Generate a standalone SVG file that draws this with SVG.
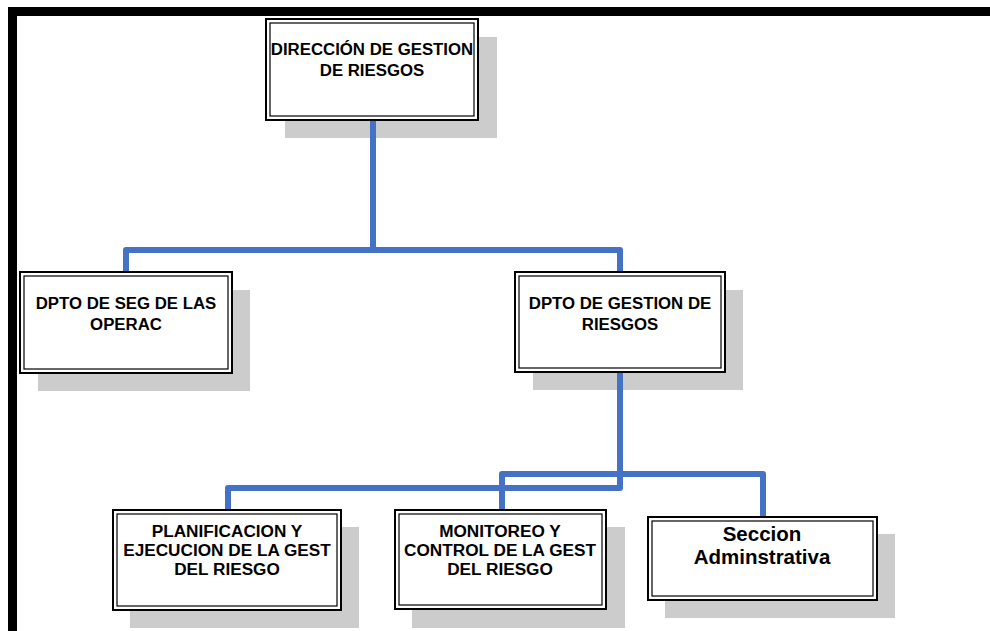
<svg xmlns="http://www.w3.org/2000/svg" width="990" height="631" viewBox="0 0 990 631">
  <style>
    .shadow { fill: #cccccc; }
    .outer { fill: #ffffff; stroke: #000000; stroke-width: 2; }
    .inner { fill: none; stroke: #000000; stroke-width: 1.2; }
    .label { font-family: "Liberation Sans", Arial, sans-serif; font-weight: bold; font-size: 16.8px; fill: #000000; text-anchor: middle; }
    .low { font-size: 17.2px; }
    .big { font-size: 20.5px; }
    .link { fill: none; stroke: #4472c4; stroke-width: 6; stroke-linejoin: round; stroke-linecap: round; }
  </style>

  <rect width="990" height="631" fill="#ffffff"/>

  <!-- page frame (top and left edges) -->
  <g id="frame">
    <rect x="8" y="7" width="982" height="9" fill="#000000"/>
    <rect x="8" y="7" width="9" height="624" fill="#000000"/>
  </g>

  <!-- shadows sit beneath everything -->
  <g id="shadows">
    <rect class="shadow" x="285" y="37" width="212" height="101"/>
    <rect class="shadow" x="38" y="290" width="212" height="101"/>
    <rect class="shadow" x="533" y="290" width="210" height="100"/>
    <rect class="shadow" x="130" y="527" width="229" height="101"/>
    <rect class="shadow" x="412" y="527" width="213" height="101"/>
    <rect class="shadow" x="665" y="534" width="230" height="84"/>
  </g>

  <!-- connectors -->
  <g id="connectors">
    <path class="link" d="M373,120 V250"/>
    <path class="link" d="M126,272 V250 H620 V272"/>
    <path class="link" d="M620,372 V488 H228 V510"/>
    <path class="link" d="M502,510 V474 H763 V517"/>
  </g>

  <g id="direccion">
    <rect class="outer" x="266" y="19" width="212" height="101"/>
    <rect class="inner" x="270" y="23" width="204" height="93"/>
    <text class="label" x="372" y="55">DIRECCIÓN DE GESTION</text>
    <text class="label" x="372" y="76">DE RIESGOS</text>
  </g>

  <g id="dpto-seg">
    <rect class="outer" x="20" y="272" width="212" height="101"/>
    <rect class="inner" x="24" y="276" width="204" height="93"/>
    <text class="label" x="126" y="309">DPTO DE SEG DE LAS</text>
    <text class="label" x="126" y="330">OPERAC</text>
  </g>

  <g id="dpto-gestion">
    <rect class="outer" x="515" y="272" width="210" height="100"/>
    <rect class="inner" x="519" y="276" width="202" height="92"/>
    <text class="label" x="620" y="309">DPTO DE GESTION DE</text>
    <text class="label" x="620" y="330">RIESGOS</text>
  </g>

  <g id="planificacion">
    <rect class="outer" x="113" y="510" width="228" height="100"/>
    <rect class="inner" x="117" y="514" width="220" height="92"/>
    <text class="label low" x="227" y="537">PLANIFICACION Y</text>
    <text class="label low" x="227" y="556">EJECUCION DE LA GEST</text>
    <text class="label low" x="227" y="575">DEL RIESGO</text>
  </g>

  <g id="monitoreo">
    <rect class="outer" x="395" y="510" width="211" height="99"/>
    <rect class="inner" x="399" y="514" width="203" height="91"/>
    <text class="label low" x="500" y="537">MONITOREO Y</text>
    <text class="label low" x="500" y="556">CONTROL DE LA GEST</text>
    <text class="label low" x="500" y="575">DEL RIESGO</text>
  </g>

  <g id="seccion">
    <rect class="outer" x="648" y="517" width="229" height="83"/>
    <rect class="inner" x="652" y="521" width="221" height="75"/>
    <text class="label big" x="762" y="541">Seccion</text>
    <text class="label big" x="762" y="564">Adminstrativa</text>
  </g>
</svg>
